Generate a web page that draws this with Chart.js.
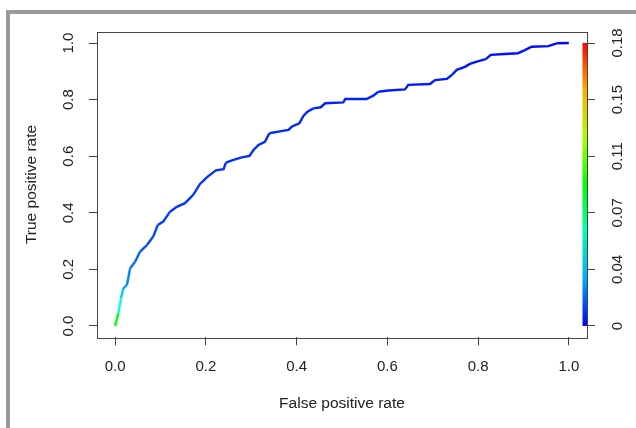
<!DOCTYPE html>
<html>
<head>
<meta charset="utf-8">
<title>ROC curve</title>
<script src="https://cdn.jsdelivr.net/npm/chart.js@4.4.1/dist/chart.umd.min.js"></script>
<style>
  html, body { margin: 0; padding: 0; background: #fff; }
  #wrap { position: relative; width: 636px; height: 428px; overflow: hidden; }
  #frame { position: absolute; left: 6px; top: 10px; right: -10px; bottom: -10px;
           border-top: 4px solid #9a9a9a; border-left: 4px solid #9a9a9a; }
  #chartBox { position: absolute; left: 0; top: 0; width: 636px; height: 428px; }
</style>
</head>
<body>
<div id="wrap">
  <div id="frame"></div>
  <div id="chartBox"><canvas id="roc"></canvas></div>
</div>
<script>
// ROC points (false positive rate / true positive rate)
const fpr = [0, 0.007, 0.013, 0.018, 0.026, 0.033, 0.044, 0.055, 0.070, 0.084,
  0.094, 0.106, 0.121, 0.136, 0.154, 0.172, 0.187, 0.204, 0.222, 0.239,
  0.244, 0.261, 0.279, 0.296, 0.305, 0.316, 0.330, 0.340, 0.360, 0.382,
  0.389, 0.406, 0.415, 0.424, 0.437, 0.453, 0.463, 0.503, 0.507, 0.554,
  0.569, 0.580, 0.602, 0.639, 0.646, 0.694, 0.705, 0.731, 0.742, 0.753,
  0.771, 0.782, 0.797, 0.817, 0.828, 0.859, 0.888, 0.903, 0.918, 0.955,
  0.973, 1.0];
const tpr = [0, 0.045, 0.098, 0.133, 0.145, 0.204, 0.227, 0.263, 0.286, 0.316,
  0.357, 0.369, 0.404, 0.421, 0.434, 0.463, 0.502, 0.528, 0.550, 0.554,
  0.577, 0.587, 0.596, 0.601, 0.622, 0.640, 0.651, 0.681, 0.687, 0.693,
  0.704, 0.716, 0.742, 0.757, 0.769, 0.773, 0.787, 0.790, 0.802, 0.802,
  0.814, 0.828, 0.832, 0.836, 0.852, 0.855, 0.869, 0.873, 0.887, 0.905,
  0.916, 0.926, 0.934, 0.943, 0.958, 0.961, 0.964, 0.975, 0.987, 0.989,
  0.999, 1.0];
// cutoff at each point (estimated from the line colour)
const cutoffs = [0.090, 0.050, 0.036, 0.029, 0.024, 0.020, 0.017, 0.015, 0.013, 0.012,
  0.011, 0.011, 0.010, 0.010, 0.010, 0.009, 0.009, 0.009, 0.009, 0.009,
  0.008, 0.008, 0.008, 0.008, 0.008, 0.008, 0.008, 0.007, 0.007, 0.007,
  0.007, 0.007, 0.007, 0.007, 0.006, 0.006, 0.006, 0.006, 0.006, 0.006,
  0.006, 0.005, 0.005, 0.005, 0.005, 0.005, 0.005, 0.005, 0.004, 0.004,
  0.004, 0.004, 0.004, 0.003, 0.003, 0.003, 0.003, 0.002, 0.002, 0.002,
  0.001, 0.000];

const axisTicks = [0, 0.2, 0.4, 0.6, 0.8, 1.0];
const cutMax = 0.1816;
const cutTickValues = [0, 0.0363, 0.0726, 0.109, 0.1453, 0.1816];
const cutTickLabels = ['0', '0.04', '0.07', '0.11', '0.15', '0.18'];

const ink = '#222';
const frameInk = '#444';

function rampColor(c) {
  const t = Math.min(Math.max(c / cutMax, 0), 1);
  return `hsl(${240 * (1 - t)}, 100%, 50%)`;
}

// colour key on the right edge + box round the plot region
const plotBox = {
  id: 'plotBox',
  afterDatasetsDraw(chart) {
    const { ctx, chartArea: a, scales } = chart;
    const top = scales.y2.getPixelForValue(cutMax);
    const bottom = scales.y2.getPixelForValue(0);
    const grad = ctx.createLinearGradient(0, bottom, 0, top);
    for (let i = 0; i <= 6; i++) {
      grad.addColorStop(i / 6, `hsl(${240 - 40 * i}, 100%, 50%)`);
    }
    ctx.save();
    ctx.fillStyle = grad;
    ctx.fillRect(a.right - 4.5, top, 4.5, bottom - top);
    ctx.strokeStyle = frameInk;
    ctx.lineWidth = 1;
    ctx.strokeRect(Math.round(a.left) + 0.5, Math.round(a.top) + 0.5,
      Math.round(a.right - a.left), Math.round(a.bottom - a.top));
    ctx.restore();
  }
};

const gridOpts = { drawOnChartArea: false, drawTicks: true, tickLength: 8, color: frameInk };

new Chart(document.getElementById('roc'), {
  type: 'line',
  data: {
    datasets: [{
      data: fpr.map((x, i) => ({ x: x, y: tpr[i] })),
      borderWidth: 2.4,
      pointRadius: 0,
      tension: 0,
      fill: false,
      borderJoinStyle: 'miter',
      borderColor: '#0033ff',
      segment: {
        borderColor: ctx => rampColor(cutoffs[ctx.p0DataIndex])
      }
    }]
  },
  options: {
    responsive: true,
    maintainAspectRatio: false,
    animation: false,
    layout: { padding: { top: 31.7, left: 0, right: 0, bottom: 0 } },
    plugins: { legend: { display: false }, tooltip: { enabled: false } },
    scales: {
      x: {
        type: 'linear', position: 'bottom', min: -0.04, max: 1.04,
        afterBuildTicks: s => { s.ticks = axisTicks.map(v => ({ value: v })); },
        afterFit: s => { s.height = 90.7; },
        grid: gridOpts,
        border: { display: false },
        ticks: { autoSkip: false, padding: 12.5, color: ink, font: { family: 'Liberation Sans', size: 15 },
                 callback: v => v.toFixed(1) },
        title: { display: true, text: 'False positive rate', color: ink,
                 font: { family: 'Liberation Sans', size: 15.5 }, padding: { top: 0, bottom: 15 } }
      },
      y: {
        type: 'linear', position: 'left', min: -0.04, max: 1.04,
        afterBuildTicks: s => { s.ticks = axisTicks.map(v => ({ value: v })); },
        afterFit: s => { s.width = 97; },
        grid: gridOpts,
        border: { display: false },
        ticks: { autoSkip: false, padding: 10, minRotation: 90, maxRotation: 90, crossAlign: 'center',
                 color: ink, font: { family: 'Liberation Sans', size: 15 }, callback: v => v.toFixed(1) },
        title: { display: true, text: 'True positive rate', color: ink,
                 font: { family: 'Liberation Sans', size: 15.5 }, padding: { top: 22, bottom: 0 } }
      },
      y2: {
        type: 'linear', position: 'right', min: -0.04 * cutMax, max: 1.04 * cutMax,
        afterBuildTicks: s => { s.ticks = cutTickValues.map(v => ({ value: v })); },
        afterFit: s => { s.width = 49; },
        grid: gridOpts,
        border: { display: false },
        ticks: { autoSkip: false, padding: 8.4, minRotation: 90, maxRotation: 90, crossAlign: 'center',
                 color: ink, font: { family: 'Liberation Sans', size: 15 },
                 callback: (v, i) => cutTickLabels[i] }
      }
    }
  },
  plugins: [plotBox]
});
</script>
</body>
</html>
